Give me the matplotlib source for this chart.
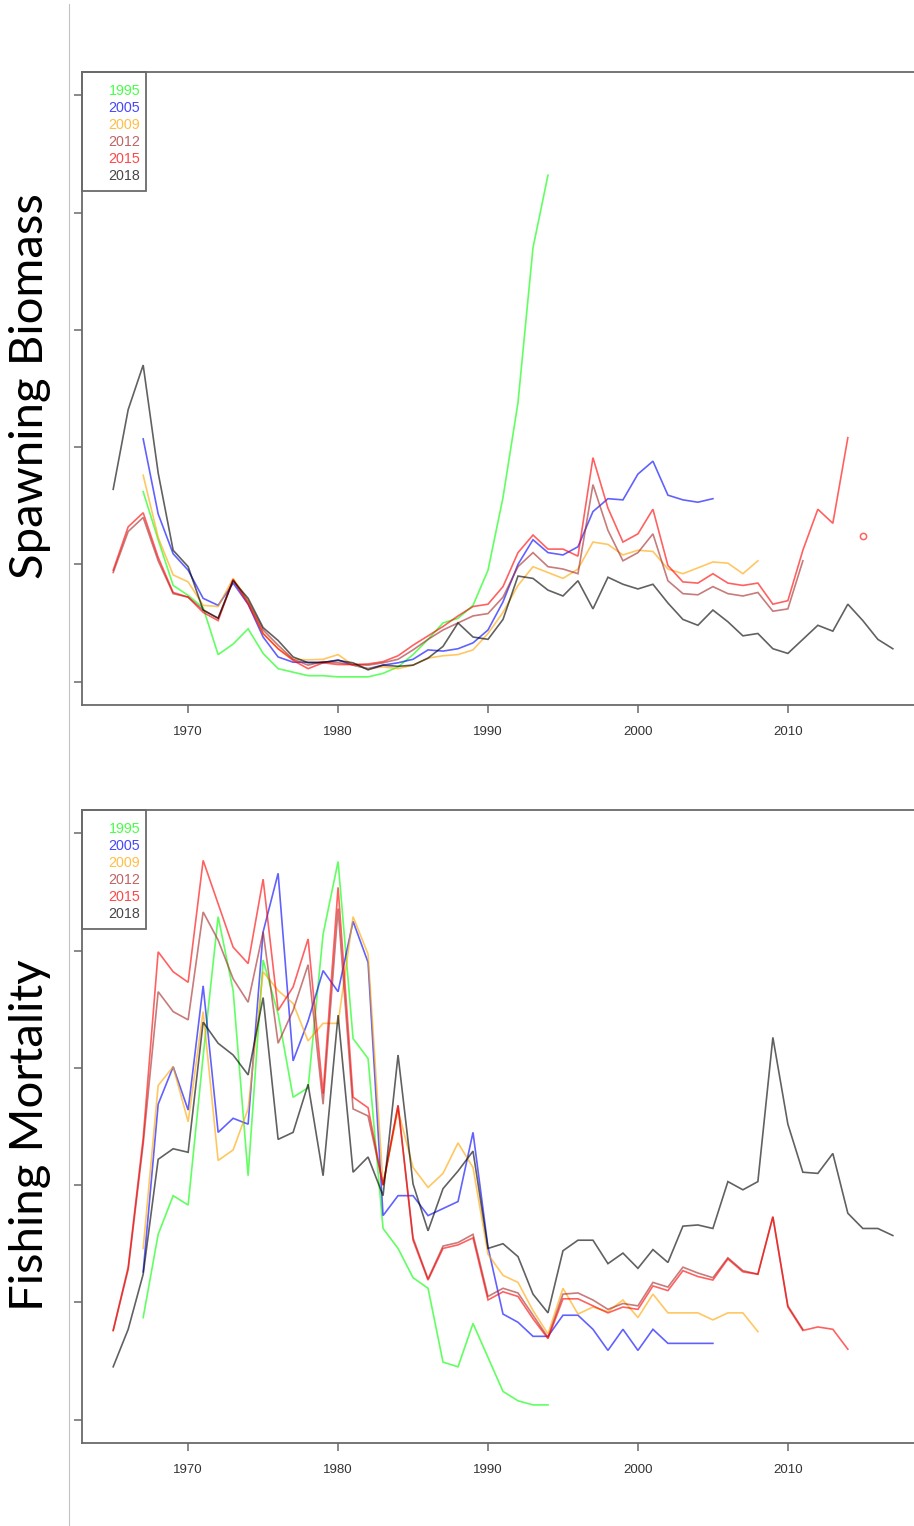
import matplotlib
matplotlib.use("Agg")
import matplotlib.pyplot as plt
from matplotlib.lines import Line2D
from matplotlib.patches import Rectangle

# ---------------- data ----------------
assessments = ["1995", "2005", "2009", "2012", "2015", "2018"]
colors = ["#00FF00", "#0000FF", "#FFA500", "#A52A2A", "#FF0000", "#000000"]

years_1995 = list(range(1967, 1995))
years_2005 = list(range(1967, 2006))
years_2009 = list(range(1967, 2009))
years_2012 = list(range(1965, 2012))
years_2015 = list(range(1965, 2015))
years_2018 = list(range(1965, 2018))

ssb_1995 = [1.62, 1.21, 0.82, 0.735, 0.63, 0.23, 0.32, 0.45, 0.24, 0.11, 0.08, 0.05, 0.05, 0.04, 0.04, 0.04,
            0.07, 0.125, 0.23, 0.36, 0.50, 0.54, 0.65, 0.95, 1.57, 2.38, 3.70, 4.32]
ssb_2005 = [2.07, 1.43, 1.09, 0.95, 0.71, 0.65, 0.84, 0.66, 0.38, 0.21, 0.165, 0.165, 0.16, 0.185, 0.14, 0.11,
            0.14, 0.16, 0.19, 0.27, 0.26, 0.28, 0.33, 0.44, 0.68, 1.00, 1.21, 1.10, 1.08, 1.15, 1.45, 1.56, 1.55,
            1.77, 1.88, 1.59, 1.55, 1.53, 1.56]
ssb_2009 = [1.76, 1.23, 0.91, 0.85, 0.65, 0.64, 0.88, 0.69, 0.41, 0.28, 0.19, 0.185, 0.19, 0.23, 0.14, 0.11,
            0.125, 0.11, 0.14, 0.20, 0.22, 0.23, 0.27, 0.41, 0.59, 0.82, 0.98, 0.93, 0.88, 0.96, 1.19, 1.17, 1.08,
            1.12, 1.11, 0.96, 0.92, 0.97, 1.02, 1.01, 0.92, 1.03]
ssb_2012 = [0.93, 1.28, 1.40, 1.03, 0.75, 0.72, 0.61, 0.54, 0.87, 0.68, 0.44, 0.31, 0.19, 0.14, 0.17, 0.16,
            0.145, 0.14, 0.16, 0.19, 0.27, 0.36, 0.44, 0.50, 0.56, 0.58, 0.72, 0.98, 1.10, 0.98, 0.96, 0.92,
            1.68, 1.29, 1.03, 1.10, 1.26, 0.86, 0.75, 0.74, 0.81, 0.75, 0.73, 0.76, 0.60, 0.62, 1.03]
ssb_2015 = [0.95, 1.32, 1.44, 1.06, 0.76, 0.72, 0.59, 0.52, 0.87, 0.66, 0.41, 0.28, 0.18, 0.11, 0.16, 0.145,
            0.145, 0.15, 0.17, 0.22, 0.31, 0.39, 0.47, 0.56, 0.64, 0.66, 0.81, 1.10, 1.25, 1.13, 1.13, 1.07,
            1.91, 1.48, 1.19, 1.26, 1.47, 0.99, 0.85, 0.84, 0.92, 0.84, 0.82, 0.84, 0.66, 0.69, 1.12, 1.47,
            1.35, 2.08]
ssb_2015_extra_year = [2015]
ssb_2015_extra_value = [1.24]
ssb_2018 = [1.64, 2.32, 2.70, 1.78, 1.12, 0.98, 0.61, 0.54, 0.86, 0.71, 0.46, 0.35, 0.21, 0.16, 0.165, 0.18,
            0.16, 0.10, 0.14, 0.13, 0.14, 0.20, 0.30, 0.50, 0.38, 0.36, 0.53, 0.90, 0.88, 0.78, 0.73, 0.86,
            0.62, 0.89, 0.83, 0.79, 0.83, 0.67, 0.53, 0.48, 0.61, 0.51, 0.39, 0.41, 0.28, 0.24, 0.36, 0.48,
            0.43, 0.66, 0.52, 0.36, 0.28]

f_1995 = [0.87, 1.58, 1.91, 1.83, 3.10, 4.29, 3.66, 2.08, 3.92, 3.46, 2.75, 2.83, 4.14, 4.76, 3.25, 3.08,
          1.63, 1.46, 1.21, 1.12, 0.49, 0.45, 0.82, 0.53, 0.24, 0.16, 0.125, 0.125]
f_2005 = [1.26, 2.69, 3.01, 2.64, 3.70, 2.45, 2.57, 2.52, 4.16, 4.66, 3.06, 3.40, 3.83, 3.65, 4.25, 3.90,
          1.74, 1.91, 1.91, 1.74, 1.80, 1.86, 2.45, 1.47, 0.90, 0.83, 0.71, 0.71, 0.89, 0.89, 0.77, 0.59,
          0.77, 0.59, 0.77, 0.65, 0.65, 0.65, 0.65]
f_2009 = [1.46, 2.85, 3.01, 2.54, 3.48, 2.21, 2.30, 2.65, 3.82, 3.66, 3.55, 3.23, 3.38, 3.38, 4.29, 3.97,
          2.00, 2.64, 2.15, 1.98, 2.10, 2.36, 2.15, 1.41, 1.23, 1.17, 0.93, 0.73, 1.12, 0.90, 0.96, 0.92,
          1.02, 0.87, 1.07, 0.91, 0.91, 0.91, 0.85, 0.91, 0.91, 0.75]
f_2012 = [0.76, 1.28, 2.35, 3.65, 3.48, 3.41, 4.33, 4.09, 3.76, 3.56, 4.16, 3.21, 3.49, 3.88, 2.69, 4.36,
          2.65, 2.59, 2.00, 2.68, 1.55, 1.20, 1.48, 1.51, 1.58, 1.05, 1.12, 1.08, 0.89, 0.70, 1.07, 1.08,
          1.02, 0.94, 0.99, 0.97, 1.17, 1.13, 1.30, 1.25, 1.21, 1.38, 1.27, 1.24, 1.73, 0.97, 0.77]
f_2015 = [0.76, 1.30, 2.40, 3.99, 3.82, 3.73, 4.77, 4.40, 4.03, 3.89, 4.61, 3.49, 3.69, 4.10, 2.78, 4.54,
          2.75, 2.66, 2.00, 2.68, 1.53, 1.19, 1.46, 1.49, 1.55, 1.02, 1.09, 1.05, 0.86, 0.69, 1.03, 1.03,
          0.97, 0.91, 0.96, 0.94, 1.14, 1.10, 1.27, 1.22, 1.19, 1.37, 1.26, 1.24, 1.73, 0.96, 0.76, 0.79,
          0.77, 0.60]
f_2018 = [0.45, 0.77, 1.24, 2.22, 2.31, 2.28, 3.39, 3.21, 3.11, 2.94, 3.60, 2.39, 2.45, 2.86, 2.08, 3.45,
          2.11, 2.24, 1.91, 3.11, 2.01, 1.61, 1.97, 2.12, 2.29, 1.46, 1.50, 1.39, 1.07, 0.91, 1.44, 1.53,
          1.53, 1.33, 1.42, 1.29, 1.45, 1.34, 1.65, 1.66, 1.63, 2.03, 1.96, 2.03, 3.26, 2.52, 2.11, 2.10,
          2.27, 1.76, 1.63, 1.63, 1.57]

x_ticks = [1970, 1980, 1990, 2000, 2010]
y_ticks = [0, 1, 2, 3, 4, 5]
panel_titles = ["Spawning Biomass", "Fishing Mortality"]

ssb_years = [years_1995, years_2005, years_2009, years_2012, years_2015, years_2018]
ssb_vals = [ssb_1995, ssb_2005, ssb_2009, ssb_2012, ssb_2015, ssb_2018]
f_vals = [f_1995, f_2005, f_2009, f_2012, f_2015, f_2018]

# ---------------- figure ----------------
W, H = 914, 1526
fig = plt.figure(figsize=(W / 100, H / 100), dpi=100)
fig.patch.set_facecolor("white")

ALPHA = 0.62
AX_COL = "#6a6a6a"


def px_axes(left, top, right, bottom):
    return fig.add_axes([left / W, 1 - bottom / H, (right - left) / W, (bottom - top) / H])


def style_axes(ax):
    ax.set_xlim(1962.92, 2019.08)
    ax.set_ylim(-0.2, 5.2)
    ax.set_xticks(x_ticks)
    ax.set_xticklabels([str(t) for t in x_ticks], fontsize=9.5, color="#333333",
                       fontfamily="Liberation Sans")
    ax.set_yticks(y_ticks)
    ax.set_yticklabels([])
    ax.tick_params(axis="both", direction="out", length=5.5, width=1.1, color=AX_COL, pad=9.5)
    for s in ax.spines.values():
        s.set_color(AX_COL)
        s.set_linewidth(1.3)


def legend_box(ax):
    trans = ax.transAxes
    bb = ax.get_position()
    ax_left = bb.x0 * W
    ax_top = (1 - bb.y1) * H
    ax_w = bb.width * W
    ax_h = bb.height * H

    def fx(px):
        return (px - ax_left) / ax_w

    def fy(py):
        return 1 - (py - ax_top) / ax_h

    rect = Rectangle((fx(82), fy(ax_top + 119)), fx(146) - fx(82), fy(ax_top) - fy(ax_top + 119),
                     transform=trans, fill=False, edgecolor=AX_COL, linewidth=1.3, clip_on=False, zorder=5)
    ax.add_patch(rect)
    for i, (lab, c) in enumerate(zip(assessments, colors)):
        ax.text(fx(140), fy(ax_top + 19 + 17 * i), lab, transform=trans, ha="right", va="center",
                color=c, alpha=ALPHA + 0.1, fontsize=10.3, fontfamily="Liberation Sans", zorder=6)


# top panel
ax1 = px_axes(82, 72, 924, 705)
for yrs, vals, c in zip(ssb_years, ssb_vals, colors):
    ax1.plot(yrs, vals, color=c, alpha=ALPHA, lw=1.2, solid_joinstyle="miter")
ax1.plot(ssb_2015_extra_year, ssb_2015_extra_value, "o", mfc="none", mec="#FF0000", alpha=ALPHA,
         ms=4.5, mew=1.1)
style_axes(ax1)
legend_box(ax1)

# bottom panel
ax2 = px_axes(82, 810, 924, 1443)
for yrs, vals, c in zip(ssb_years, f_vals, colors):
    ax2.plot(yrs, vals, color=c, alpha=ALPHA, lw=1.2, solid_joinstyle="miter")
style_axes(ax2)
legend_box(ax2)

# slide separator line
fig.add_artist(Line2D([69 / W, 69 / W], [0, 1 - 4 / H], transform=fig.transFigure,
                      color="#c4c4c4", lw=0.8))

# big y titles
fig.text(30 / W, 1 - 386 / H, panel_titles[0], rotation=90, ha="center", va="center",
         fontsize=34, fontfamily="Lato", color="black")
fig.text(30 / W, 1 - 1135 / H, panel_titles[1], rotation=90, ha="center", va="center",
         fontsize=34, fontfamily="Lato", color="black")

fig.savefig("out.png", dpi=100, facecolor="white")
